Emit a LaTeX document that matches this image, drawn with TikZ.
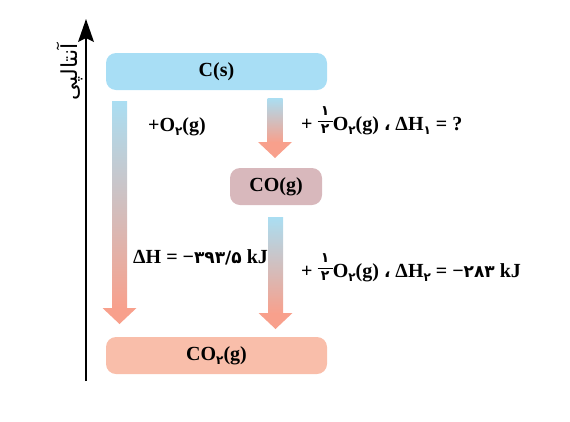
\documentclass[tikz,border=0pt]{standalone}
\usepackage{fontspec}
\setmainfont{Liberation Serif}
\newfontfamily\pdfont{DejaVu Sans}
\newfontfamily\arabicfont[Script=Arabic]{DejaVu Sans}
\TeXXeTstate=1
\newcommand\pd[1]{{\fontsize{17}{17}\selectfont\pdfont\bfseries #1}}
\newcommand\lowsub[1]{\raisebox{-0.45ex}{\fontsize{12}{12}\selectfont\pdfont\bfseries #1}}
\newcommand\fdig{\fontsize{14}{14}\selectfont\pdfont\bfseries}
\newcommand\halffrac{\raisebox{0.45ex}{\renewcommand\arraystretch{0.85}\setlength\arrayrulewidth{0.8pt}\begin{tabular}[c]{@{\,}c@{\,}}\fdig ۱\\\hline\fdig ۲\end{tabular}}}
\definecolor{cblue}{RGB}{168,222,245}
\definecolor{cmauve}{RGB}{216,184,188}
\definecolor{csalmon}{RGB}{249,190,170}
\definecolor{ablue}{RGB}{170,222,242}
\definecolor{asalmon}{RGB}{248,160,140}
\tikzset{
  state/.style={rounded corners=10pt, minimum height=37pt, inner sep=0pt, font=\fontsize{20}{20}\selectfont\bfseries},
  lbl/.style={anchor=west, inner sep=0pt, font=\fontsize{20}{20}\selectfont\bfseries},
}
% block arrow: x center, top y, head top y, tip y
\newcommand\blockarrow[4]{%
  \shade[top color=ablue, bottom color=asalmon] (#1-7.5,#2) rectangle (#1+7.5,#3+0.5);
  \fill[asalmon] (#1-17,#3) -- (#1+17,#3) -- (#1,#4) -- cycle;
}
\begin{document}
\begin{tikzpicture}[x=1pt,y=-1pt]
\useasboundingbox (0,0) rectangle (570,421);
% axis
\coordinate (axb) at (86,381);
\coordinate (axt) at (86,19);
\draw[line width=2pt] (axb) -- (86,38);
\fill (axt) -- (94,42) -- (86,38) -- (78,42) -- cycle;
\node[rotate=90, inner sep=0pt, font=\fontsize{22}{22}\selectfont] (axlbl) at (70,72) {\arabicfont\beginR آنتالپی\endR};
% states
\node[state, fill=cblue, minimum width=221pt] (cs) at (216.5,71.5) {C(s)};
\node[state, fill=cmauve, minimum width=92pt] (co) at (276,186.5) {CO(g)};
\node[state, fill=csalmon, minimum width=221pt] (co2) at (216.5,355.5) {CO\lowsub{۲}(g)};
% arrows
\blockarrow{119.5}{101}{308}{324}
\blockarrow{275}{98}{142}{158}
\blockarrow{275.5}{217}{313}{329}
% labels
\node[lbl] (l1) at (148,127) {+O\lowsub{۲}(g)};
\node[lbl] (l2) at (301,121) {+ \halffrac O\lowsub{۲}(g) \pd{،} ΔH\lowsub{۱} = ?};
\node[lbl] (l3) at (133,257) {ΔH = −\pd{۳۹۳/۵} kJ};
\node[lbl] (l4) at (301,268) {+ \halffrac O\lowsub{۲}(g) \pd{،} ΔH\lowsub{۲} = −\pd{۲۸۳} kJ};
\end{tikzpicture}
\end{document}
